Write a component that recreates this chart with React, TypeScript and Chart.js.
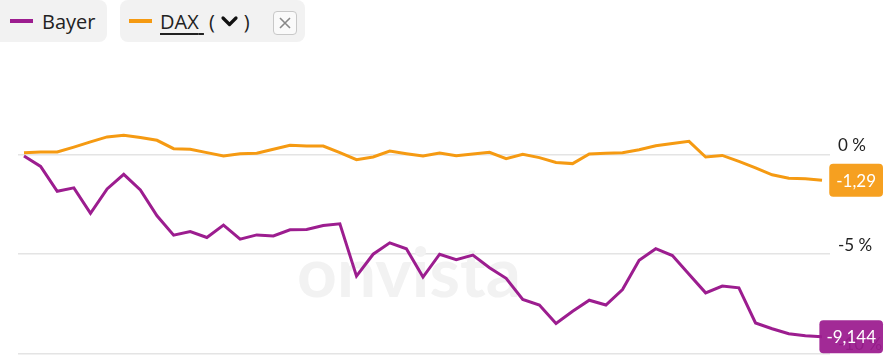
import React, { useEffect, useRef } from "react";
import { Chart, registerables } from "chart.js";

Chart.register(...registerables);

// ---- data (percent change) ----
const seriesNames = ["Bayer", "DAX"];
const bayerValues = [
  -0.07, -0.59, -1.84, -1.67, -2.95, -1.72, -0.99, -1.77, -3.07, -4.04,
  -3.86, -4.16, -3.54, -4.24, -4.03, -4.08, -3.77, -3.76, -3.56, -3.47,
  -6.1, -5.0, -4.43, -4.73, -6.15, -5.0, -5.27, -5.04, -5.68, -6.21,
  -7.27, -7.55, -8.48, -7.86, -7.31, -7.55, -6.77, -5.3, -4.72, -5.07,
  -6.01, -6.94, -6.6, -6.69, -8.45, -8.74, -8.99, -9.09, -9.144,
];
const daxValues = [
  0.1, 0.13, 0.13, 0.38, 0.64, 0.89, 0.97, 0.86, 0.72, 0.3,
  0.27, 0.1, -0.07, 0.05, 0.07, 0.27, 0.47, 0.43, 0.43, 0.1,
  -0.25, -0.12, 0.18, 0.05, -0.07, 0.08, -0.05, 0.03, 0.12, -0.2,
  0.02, -0.15, -0.39, -0.45, 0.03, 0.07, 0.1, 0.25, 0.45, 0.56,
  0.67, -0.12, -0.04, -0.34, -0.66, -1.01, -1.18, -1.21, -1.29,
];
const lastLabels = ["-9,144", "-1,29"];
const yTicks = [0, -5, -10];

const PURPLE = "#9C1D8F";
const ORANGE = "#F59A12";
const FONT = "Lato";

const badgePlugin = {
  id: "badges",
  afterDraw(chart: any) {
    const ctx = chart.ctx;
    chart.data.datasets.forEach((ds: any, i: number) => {
      const meta = chart.getDatasetMeta(i);
      const pt = meta.data[meta.data.length - 1];
      if (!pt) return;
      const text = lastLabels[i];
      ctx.save();
      ctx.font = `17px ${FONT}`;
      const w = ctx.measureText(text).width + 14;
      const h = 33;
      const right = 883;
      const x = right - w;
      const y = pt.y - h / 2;
      ctx.globalAlpha = 0.94;
      ctx.fillStyle = ds.borderColor;
      ctx.beginPath();
      (ctx as any).roundRect(x, y, w, h, 4);
      ctx.fill();
      ctx.globalAlpha = 1;
      ctx.fillStyle = "#ffffff";
      ctx.textAlign = "center";
      ctx.textBaseline = "middle";
      ctx.fillText(text, x + w / 2, pt.y + 1);
      ctx.restore();
    });
  },
};

const watermarkPlugin = {
  id: "watermark",
  beforeDatasetsDraw(chart: any) {
    const ctx = chart.ctx;
    ctx.save();
    ctx.font = `bold 68px ${FONT}`;
    const m = ctx.measureText("onvista").width;
    const size = (68 * 224) / m;
    ctx.font = `bold ${size}px ${FONT}`;
    ctx.fillStyle = "#f2f2f2";
    ctx.textAlign = "center";
    ctx.textBaseline = "alphabetic";
    ctx.fillText("onvista", 409, 297);
    ctx.restore();
  },
};

function Chevron() {
  return (
    <svg width="19" height="13" viewBox="0 0 19 13" style={{ display: "inline-block", verticalAlign: "middle", margin: "0 5px" }}>
      <polyline points="3,3 9.5,9.5 16,3" fill="none" stroke="#111" strokeWidth="3.2" strokeLinecap="round" strokeLinejoin="round" />
    </svg>
  );
}

export default function App() {
  const ref = useRef<HTMLCanvasElement | null>(null);

  useEffect(() => {
    if (!ref.current) return;
    const chart = new Chart(ref.current, {
      type: "line",
      data: {
        datasets: [
          {
            label: seriesNames[0],
            data: bayerValues.map((v, i) => ({ x: i, y: v })),
            borderColor: PURPLE,
            backgroundColor: PURPLE,
            borderWidth: 3,
            pointRadius: 0,
            tension: 0,
          },
          {
            label: seriesNames[1],
            data: daxValues.map((v, i) => ({ x: i, y: v })),
            borderColor: ORANGE,
            backgroundColor: ORANGE,
            borderWidth: 3,
            pointRadius: 0,
            tension: 0,
          },
        ],
      },
      options: {
        responsive: false,
        animation: false,
        layout: { padding: { left: 18, top: 94.9, bottom: 12, right: 0 } },
        plugins: { legend: { display: false }, tooltip: { enabled: false } },
        scales: {
          x: { type: "linear", min: -0.36, max: 48.48, display: false },
          y: {
            position: "right",
            min: -10,
            max: 3,
            afterBuildTicks: (s: any) => {
              s.ticks = yTicks.map((v) => ({ value: v }));
            },
            afterFit: (s: any) => {
              s.width = 56;
            },
            grid: { color: "#e4e4e4", lineWidth: 1.5, drawTicks: false },
            border: { display: false },
            ticks: {
              padding: 8,
              labelOffset: -9,
              color: "#222",
              font: { family: FONT, size: 17 },
              callback: (v: any) => `${v} %`,
            },
          },
        },
      },
      plugins: [watermarkPlugin, badgePlugin],
    } as any);
    return () => chart.destroy();
  }, []);

  const pill: React.CSSProperties = {
    position: "absolute",
    top: 0,
    height: 42,
    background: "#f2f2f2",
    display: "flex",
    alignItems: "center",
    fontFamily: "'Open Sans', sans-serif",
    fontSize: 20,
    color: "#222",
  };

  return (
    <div style={{ position: "absolute", left: 0, top: 0, width: 886, height: 355, overflow: "hidden", background: "#fff" }}>
      <canvas ref={ref} width={886} height={372} style={{ position: "absolute", left: 0, top: 0 }} />
      <div style={{ ...pill, left: 0, width: 107, borderRadius: "0 8px 8px 0" }}>
        <span style={{ display: "inline-block", width: 23, height: 4, background: PURPLE, marginLeft: 10, marginRight: 9 }} />
        <span>{seriesNames[0]}</span>
      </div>
      <div style={{ ...pill, left: 120, width: 185, borderRadius: 8 }}>
        <span style={{ display: "inline-block", width: 23, height: 4, background: ORANGE, marginLeft: 9, marginRight: 8 }} />
        <span style={{ textDecoration: "underline", textUnderlineOffset: 4 }}>{seriesNames[1]}&nbsp;</span>
        <span style={{ marginLeft: 5 }}>(</span>
        <Chevron />
        <span>)</span>
        <span
          style={{
            position: "absolute",
            left: 153,
            top: 11,
            width: 22,
            height: 22,
            border: "1px solid #c8c8c8",
            borderRadius: 4,
            background: "#fafafa",
            display: "flex",
            alignItems: "center",
            justifyContent: "center",
          }}
        >
          <svg width="14" height="14" viewBox="0 0 14 14">
            <path d="M2 2 L12 12 M12 2 L2 12" stroke="#888" strokeWidth="1.6" />
          </svg>
        </span>
      </div>
    </div>
  );
}
